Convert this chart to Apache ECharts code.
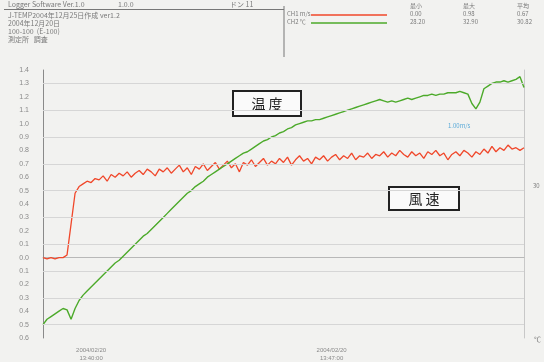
<!DOCTYPE html>
<html>
<head>
<meta charset="utf-8">
<script src="https://cdn.jsdelivr.net/npm/echarts@6/dist/echarts.min.js"></script>
<style>
  html, body { margin: 0; padding: 0; background: #f2f2f0; }
  #chart { width: 544px; height: 362px; }
</style>
</head>
<body>
<div id="chart"></div>
<script>
// wind speed (m/s), CH1
const windSpeed = [
  0.00, -0.01, 0.00, -0.01, 0.00, 0.00, 0.02, 0.25, 0.48, 0.53,
  0.55, 0.57, 0.56, 0.59, 0.58, 0.61, 0.57, 0.62, 0.60, 0.63,
  0.61, 0.64, 0.60, 0.63, 0.65, 0.62, 0.66, 0.64, 0.61, 0.66,
  0.64, 0.67, 0.63, 0.66, 0.69, 0.64, 0.67, 0.62, 0.68, 0.66,
  0.70, 0.65, 0.68, 0.71, 0.66, 0.69, 0.72, 0.67, 0.70, 0.64,
  0.71, 0.69, 0.73, 0.68, 0.71, 0.74, 0.69, 0.72, 0.70, 0.74,
  0.71, 0.75, 0.69, 0.73, 0.76, 0.72, 0.74, 0.70, 0.75, 0.73,
  0.76, 0.72, 0.75, 0.77, 0.73, 0.76, 0.74, 0.78, 0.73, 0.76,
  0.75, 0.78, 0.74, 0.77, 0.76, 0.79, 0.75, 0.78, 0.76, 0.80,
  0.77, 0.75, 0.79, 0.76, 0.78, 0.74, 0.79, 0.77, 0.80, 0.76,
  0.78, 0.73, 0.77, 0.79, 0.76, 0.80, 0.78, 0.75, 0.79, 0.77,
  0.81, 0.78, 0.83, 0.79, 0.82, 0.80, 0.84, 0.81, 0.82, 0.80, 0.82
];

// temperature, CH2 (plotted on the same scale as the printout)
const temperature = [
  -0.50, -0.46, -0.44, -0.42, -0.40, -0.38, -0.39, -0.46, -0.38, -0.32,
  -0.28, -0.25, -0.22, -0.19, -0.16, -0.13, -0.10, -0.07, -0.04, -0.02,
  0.01, 0.04, 0.07, 0.10, 0.13, 0.16, 0.18, 0.21, 0.24, 0.27,
  0.30, 0.33, 0.36, 0.39, 0.42, 0.45, 0.48, 0.50, 0.53, 0.55,
  0.57, 0.60, 0.62, 0.64, 0.66, 0.68, 0.70, 0.72, 0.74, 0.76,
  0.78, 0.79, 0.81, 0.83, 0.85, 0.87, 0.88, 0.90, 0.91, 0.93,
  0.94, 0.96, 0.97, 0.99, 1.00, 1.01, 1.02, 1.02, 1.03, 1.03,
  1.04, 1.05, 1.06, 1.07, 1.08, 1.09, 1.10, 1.11, 1.12, 1.13,
  1.14, 1.15, 1.16, 1.17, 1.18, 1.17, 1.16, 1.17, 1.16, 1.17,
  1.18, 1.19, 1.18, 1.19, 1.20, 1.21, 1.21, 1.22, 1.21, 1.22,
  1.22, 1.23, 1.23, 1.23, 1.24, 1.23, 1.22, 1.15, 1.11, 1.16,
  1.26, 1.28, 1.30, 1.31, 1.31, 1.32, 1.31, 1.32, 1.33, 1.35, 1.27
];

// time stamps: one sample every 7 s
const startTime = [13, 38, 36];
const stepSeconds = 7;
const labelIndexes = [12, 72];
const gridValues = [-0.5, -0.3, -0.1, 0.1, 0.3, 0.5, 0.7, 0.9, 1.1, 1.3];

const pad = n => (n < 10 ? '0' : '') + n;
const times = windSpeed.map((_, i) => {
  let s = startTime[0] * 3600 + startTime[1] * 60 + startTime[2] + i * stepSeconds;
  return '2004/02/20\n' + pad(Math.floor(s / 3600)) + ':' + pad(Math.floor(s / 60) % 60) + ':' + pad(s % 60);
});

let chartDom = document.getElementById('chart');
let myChart = echarts.init(chartDom);

const hdr = { fill: '#7a7a7a', fontSize: 7, fontFamily: 'Noto Sans CJK JP' };
function txt(x, y, text, extra) {
  return { type: 'text', left: x, top: y, silent: true, style: Object.assign({ text: text }, hdr, extra || {}) };
}
function labelBox(x, y, w, h, text) {
  return {
    type: 'group', left: x, top: y, silent: true,
    children: [
      { type: 'rect', shape: { x: 0, y: 0, width: w, height: h }, style: { fill: '#fafafa', stroke: '#222', lineWidth: 2 } },
      { type: 'text', x: w / 2, y: h / 2, style: { text: text, fill: '#222', fontSize: 14, fontFamily: 'Noto Sans CJK JP', align: 'center', verticalAlign: 'middle' } }
    ]
  };
}

let option = {
  backgroundColor: '#f2f2f0',
  animation: false,
  grid: { left: 43, right: 20, top: 70, bottom: 21 },
  xAxis: {
    type: 'category',
    data: times,
    boundaryGap: false,
    axisLine: { lineStyle: { color: '#b8b8b8' } },
    axisTick: { show: false },
    axisLabel: {
      color: '#8a8a8a', fontSize: 6, lineHeight: 8,
      interval: (idx) => labelIndexes.indexOf(idx) >= 0
    },
    splitLine: { show: false }
  },
  yAxis: [
    {
      type: 'value',
      min: -0.6, max: 1.4, interval: 0.1,
      axisLine: { show: true, lineStyle: { color: '#8a8a8a' } },
      axisTick: { show: false },
      axisLabel: { color: '#8a8a8a', fontSize: 7, margin: 14, formatter: v => Math.abs(v).toFixed(1) },
      splitLine: { show: false }
    },
    {
      type: 'value', position: 'right',
      min: -0.6, max: 1.4,
      axisLine: { show: true, lineStyle: { color: '#c8c8c8' } },
      axisTick: { show: false }, axisLabel: { show: false }, splitLine: { show: false }
    }
  ],
  series: [
    {
      name: 'CH1 m/s', type: 'line', data: windSpeed, showSymbol: false,
      lineStyle: { color: '#f0472a', width: 1.3 },
      markLine: {
        silent: true, symbol: 'none', label: { show: false },
        lineStyle: { color: '#d6d6d6', type: 'solid', width: 1 },
        data: gridValues.map(v => ({ yAxis: v }))
      },
      z: 3
    },
    {
      name: 'CH2 ℃', type: 'line', data: temperature, showSymbol: false,
      lineStyle: { color: '#4caa2a', width: 1.4 },
      z: 4
    }
  ],
  graphic: [
    { type: 'line', silent: true, shape: { x1: 4, y1: 9.5, x2: 284, y2: 9.5 }, style: { stroke: '#777', lineWidth: 1 } },
    { type: 'line', silent: true, shape: { x1: 284, y1: 6, x2: 284, y2: 57 }, style: { stroke: '#777', lineWidth: 1 } },
    txt(8, 1, 'Logger Software Ver.1.0'),
    txt(118, 1, '1.0.0'),
    txt(230, 1, 'ドン 11'),
    txt(8, 12, 'J-TEMP2004年12月25日作成 ver1.2'),
    txt(8, 20, '2004年12月20日'),
    txt(8, 28, '100-100  (E-100)'),
    txt(8, 36, '測定所   調査'),
    txt(287, 11, 'CH1 m/s', { fontSize: 6 }),
    txt(287, 19, 'CH2 ℃', { fontSize: 6 }),
    { type: 'line', silent: true, shape: { x1: 311, y1: 15, x2: 387, y2: 15 }, style: { stroke: '#f0472a', lineWidth: 1.5 } },
    { type: 'line', silent: true, shape: { x1: 311, y1: 23, x2: 387, y2: 23 }, style: { stroke: '#4caa2a', lineWidth: 1.5 } },
    txt(410, 3, '最小', { fontSize: 6 }),
    txt(463, 3, '最大', { fontSize: 6 }),
    txt(517, 3, '平均', { fontSize: 6 }),
    txt(410, 11, '0.00', { fontSize: 6 }),
    txt(463, 11, '0.98', { fontSize: 6 }),
    txt(517, 11, '0.67', { fontSize: 6 }),
    txt(410, 19, '28.20', { fontSize: 6 }),
    txt(463, 19, '32.90', { fontSize: 6 }),
    txt(517, 19, '30.82', { fontSize: 6 }),
    labelBox(232, 90, 68, 25, '温 度'),
    labelBox(388, 186, 70, 23, '風 速'),
    txt(448, 123, '1.00m/s', { fill: '#5aaad8', fontSize: 6 }),
    txt(533, 183, '30', { fontSize: 6 }),
    txt(534, 336, '℃', { fontSize: 7 })
  ]
};
option && myChart.setOption(option);
</script>
</body>
</html>
